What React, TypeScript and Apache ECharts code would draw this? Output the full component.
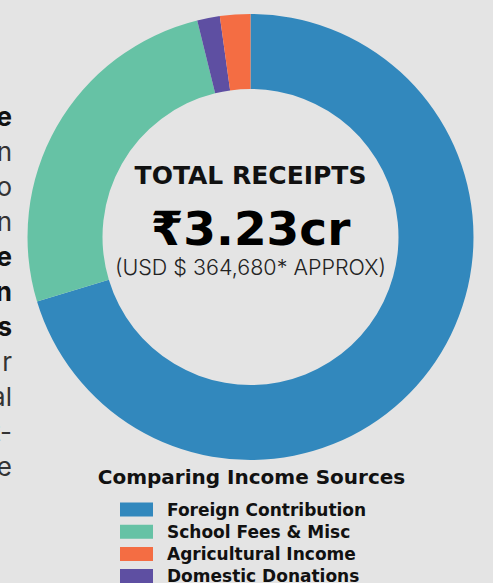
import React, { useEffect, useRef } from "react";
import * as echarts from "echarts";

const categories = [
  "Foreign Contribution",
  "School Fees & Misc",
  "Domestic Donations",
  "Agricultural Income",
];
// values in lakh rupees (total ≈ 3.23 cr)
const values = [227.1, 83.4, 5.3, 7.1];
const colors = ["#3288bd", "#66c2a5", "#5e4fa2", "#f46d43"];
const legendOrder = [
  "Foreign Contribution",
  "School Fees & Misc",
  "Agricultural Income",
  "Domestic Donations",
];
const centerTitle = "TOTAL RECEIPTS";
const centerValue = "₹3.23cr";
const centerSub = "(USD $ 364,680* APPROX)";
const legendTitle = "Comparing Income Sources";
// fragments of a side paragraph cut by the left edge
const sideFragments = ["e", "n", "o", "n", "e", "n", "s", "r", "al", "t-", "e"];
const sideBold = [true, false, false, false, true, true, true, false, false, false, false];

const FONT = "Inter, 'Noto Sans', sans-serif";
const HEAD = "'DejaVu Sans', sans-serif";
const BG = "#e4e4e4";

export default function App() {
  const ref = useRef<HTMLDivElement>(null);
  useEffect(() => {
    document.body.style.margin = "0";
    document.body.style.background = BG;
    const chart = echarts.init(ref.current!, null, { renderer: "svg" });
    const side = sideFragments.map((t, i) => ({
      type: "text",
      x: 12,
      y: 116 + i * 35,
      style: {
        text: t,
        font: `${sideBold[i] ? 700 : 400} 26px ${FONT}`,
        fill: sideBold[i] ? "#111" : "#333",
        align: "right",
        verticalAlign: "middle",
      },
    }));
    chart.setOption({
      animation: false,
      backgroundColor: BG,
      color: colors,
      legend: {
        data: legendOrder,
        orient: "vertical",
        left: 120,
        top: 501,
        height: 120,
        itemWidth: 33,
        itemHeight: 14,
        itemGap: 5.2,
        icon: "rect",
        padding: 0,
        selectedMode: false,
        textStyle: {
          fontFamily: HEAD,
          fontSize: 17,
          lineHeight: 17,
          fontWeight: 700,
          color: "#111",
          padding: [0, 0, 0, 9],
        },
      },
      graphic: [
        ...side,
        {
          type: "text",
          x: 250.5,
          y: 175,
          style: {
            text: centerTitle,
            font: `700 25px ${HEAD}`,
            fill: "#111",
            align: "center",
            verticalAlign: "middle",
          },
        },
        {
          type: "text",
          x: 250.5,
          y: 228,
          style: {
            text: centerValue,
            font: `700 47px ${HEAD}`,
            fill: "#000",
            align: "center",
            verticalAlign: "middle",
          },
        },
        {
          type: "text",
          x: 250.5,
          y: 267,
          style: {
            text: centerSub,
            font: `300 21.5px ${FONT}`,
            fill: "#222",
            align: "center",
            verticalAlign: "middle",
          },
        },
        {
          type: "text",
          x: 251.5,
          y: 477,
          style: {
            text: legendTitle,
            font: `700 20px ${HEAD}`,
            fill: "#111",
            align: "center",
            verticalAlign: "middle",
          },
        },
      ],
      series: [
        {
          type: "pie",
          center: [250.5, 237],
          radius: [148, 223],
          startAngle: 90,
          clockwise: true,
          label: { show: false },
          labelLine: { show: false },
          emphasis: { disabled: true },
          itemStyle: { borderWidth: 0 },
          data: categories.map((c, i) => ({ name: c, value: values[i] })),
        },
      ],
    });
    return () => chart.dispose();
  }, []);
  return (
    <div
      ref={ref}
      style={{ position: "absolute", left: 0, top: 0, width: 493, height: 583, background: BG }}
    />
  );
}
